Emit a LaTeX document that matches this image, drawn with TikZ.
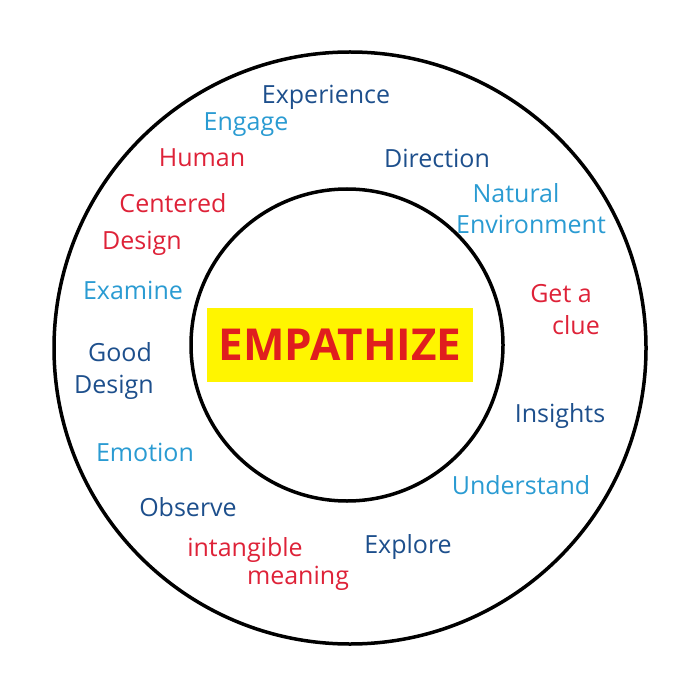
\documentclass[tikz,border=0pt]{standalone}
\usepackage{fontspec}
\setmainfont{Open Sans}
\usepackage{tikz}
\definecolor{inkdark}{HTML}{1D4F8C}
\definecolor{inklight}{HTML}{2A9BD2}
\definecolor{inkred}{HTML}{DE2238}
\definecolor{hilite}{HTML}{FFF500}
\definecolor{titlered}{HTML}{E01E1E}

\begin{document}
\begin{tikzpicture}[x=1pt, y=-1pt,
      ring/.style={draw=black, line width=3.5pt},
      word/.style={inner sep=0pt, font=\fontsize{25}{27}\selectfont},
      dark/.style={word, text=inkdark},
      light/.style={word, text=inklight},
      redword/.style={word, text=inkred},
      ]
    \useasboundingbox (0,0) rectangle (700,692);
    \draw[ring] (350,348) circle (296);
    \draw[ring] (347,345) circle (156);

    % centre label
    \node[fill=hilite, minimum width=266pt, minimum height=74pt, inner sep=0pt,
          text=titlered, font=\fontsize{44}{48}\selectfont\bfseries] (title) at (340,345) {EMPATHIZE};

    % words round the ring
    \node[dark] (experience) at (326,97) {Experience};
    \node[light] (engage) at (246,125) {Engage};
    \node[redword] (human) at (202,158) {Human};
    \node[dark] (direction) at (437,158) {Direction};
    \node[redword] (centered) at (173,203) {Centered};
    \node[light] (natural) at (516,193) {Natural};
    \node[light] (environment) at (531,224) {Environment};
    \node[redword] (hcdesign) at (142,243) {Design};
    \node[light] (examine) at (133,290) {Examine};
    \node[redword] (geta) at (561,294) {Get a};
    \node[redword] (clue) at (576,325) {clue};
    \node[dark] (good) at (120,352) {Good};
    \node[dark] (gooddesign) at (114,387) {Design};
    \node[dark] (insights) at (560,416) {Insights};
    \node[light] (emotion) at (145,452) {Emotion};
    \node[light] (understand) at (521,485) {Understand};
    \node[dark] (observe) at (188,507) {Observe};
    \node[redword] (intangible) at (245,550) {intangible};
    \node[dark] (explore) at (408,547) {Explore};
    \node[redword] (meaning) at (298,578) {meaning};
  \end{tikzpicture}
\end{document}
